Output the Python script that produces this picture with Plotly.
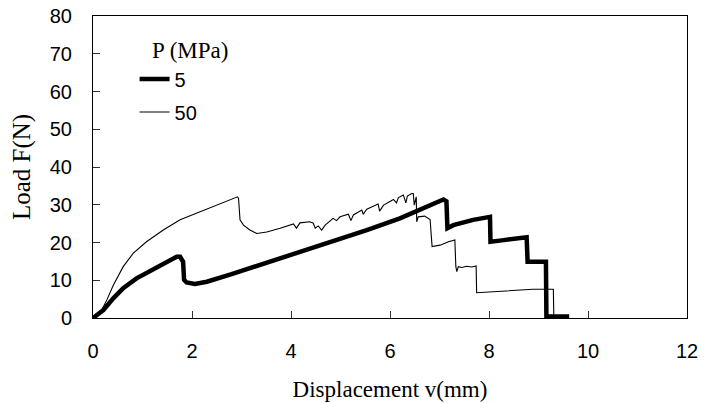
import plotly.graph_objects as go

# 5 MPa (thick)
x5 = [0.0, 0.21, 0.41, 0.61, 0.88, 1.15, 1.42, 1.69, 1.76, 1.82, 1.84, 1.89, 2.06, 2.30,
      2.8, 3.3, 3.8, 4.18, 4.85, 5.53, 6.20, 6.54, 6.88, 7.08, 7.14, 7.16, 7.28, 7.68, 8.02,
      8.03, 8.22, 8.50, 8.76, 8.78, 9.15, 9.16, 9.20, 9.62]
y5 = [0.0, 2.1, 5.2, 7.9, 10.5, 12.5, 14.5, 16.2, 16.2, 14.9, 10.1, 9.4, 9.0, 9.6,
      11.6, 13.7, 15.9, 17.6, 20.5, 23.3, 26.4, 28.4, 30.4, 31.4, 30.9, 23.8, 24.6, 26.0, 26.8,
      20.2, 20.5, 21.0, 21.4, 14.9, 14.9, 0.0, 0.4, 0.4]

# 50 MPa (thin)
x50 = [0.0, 0.14, 0.28, 0.41, 0.61, 0.81, 1.08, 1.42, 1.76, 2.09, 2.43, 2.70, 2.92, 2.94,
       2.97, 3.04, 3.17, 3.31, 3.51, 3.78, 4.05, 4.11, 4.18, 4.38, 4.45, 4.49, 4.55, 4.62,
       4.69, 4.85, 4.92, 4.99, 5.16, 5.21, 5.26, 5.43, 5.46, 5.53, 5.76, 5.79, 5.87, 6.07,
       6.13, 6.17, 6.27, 6.32, 6.35, 6.44, 6.47, 6.49, 6.53, 6.54, 6.57, 6.70, 6.81, 6.85,
       7.01, 7.11, 7.18, 7.31, 7.33, 7.35, 7.38, 7.45, 7.55, 7.65, 7.74, 7.75, 8.22, 8.89,
       9.30, 9.31]
y50 = [0.0, 1.2, 4.8, 8.7, 13.6, 17.1, 20.2, 23.3, 26.0, 27.7, 29.5, 30.8, 32.1, 31.7,
       26.0, 24.6, 23.3, 22.4, 22.8, 23.8, 24.9, 23.8, 25.2, 25.5, 25.1, 23.8, 24.4, 23.3,
       24.6, 26.4, 25.8, 26.8, 27.5, 25.8, 27.3, 28.6, 27.5, 28.8, 30.2, 28.3, 29.9, 31.4,
       30.5, 31.9, 32.6, 30.5, 32.3, 33.0, 33.0, 29.9, 32.1, 25.5, 26.8, 27.0, 26.1, 18.9,
       19.3, 19.8, 20.2, 20.7, 13.6, 12.3, 13.6, 13.4, 13.7, 13.5, 13.8, 6.7, 7.0, 7.6,
       7.6, 0.0]

x_ticks = [0, 2, 4, 6, 8, 10, 12]
y_ticks = [0, 10, 20, 30, 40, 50, 60, 70, 80]

fig = go.Figure()
fig.add_trace(go.Scatter(x=x5, y=y5, mode="lines", name="5", legendgroup="a",
                         line=dict(color="black", width=4.5)))
fig.add_trace(go.Scatter(x=x50, y=y50, mode="lines", name="50", legendgroup="b",
                         line=dict(color="black", width=1.1)))

sans = "Liberation Sans, Arial, sans-serif"
serif = "Liberation Serif, Times New Roman, serif"

fig.update_layout(
    width=711, height=403,
    margin=dict(l=93, r=24, t=16, b=85),
    plot_bgcolor="white", paper_bgcolor="white",
    showlegend=True,
    legend=dict(x=0.07, y=0.856, xanchor="left", yanchor="top",
                bgcolor="rgba(0,0,0,0)", tracegroupgap=4,
                font=dict(family=sans, size=20, color="black")),
    annotations=[dict(text="P (MPa)", xref="paper", yref="paper",
                      x=0.096, y=0.886, xanchor="left", yanchor="middle",
                      showarrow=False,
                      font=dict(family=serif, size=23, color="black"))],
    xaxis=dict(range=[0, 12], tickvals=x_ticks, ticks="inside", ticklen=7,
               tickcolor="#333", showgrid=False, zeroline=False, automargin=False,
               showline=True, linecolor="black", linewidth=1, mirror=True,
               ticklabelstandoff=15,
               tickfont=dict(family=sans, size=20, color="black"),
               title=dict(text="Displacement v(mm)", standoff=19,
                          font=dict(family=serif, size=23, color="black"))),
    yaxis=dict(range=[0, 80], tickvals=y_ticks, ticks="inside", ticklen=7,
               tickcolor="#333", showgrid=False, zeroline=False, automargin=False,
               showline=True, linecolor="black", linewidth=1, mirror=True,
               ticklabelstandoff=16,
               tickfont=dict(family=sans, size=20, color="black"),
               title=dict(text="Load F(N)", standoff=12,
                          font=dict(family=serif, size=25, color="black"))),
)

fig.write_html("out.html")
